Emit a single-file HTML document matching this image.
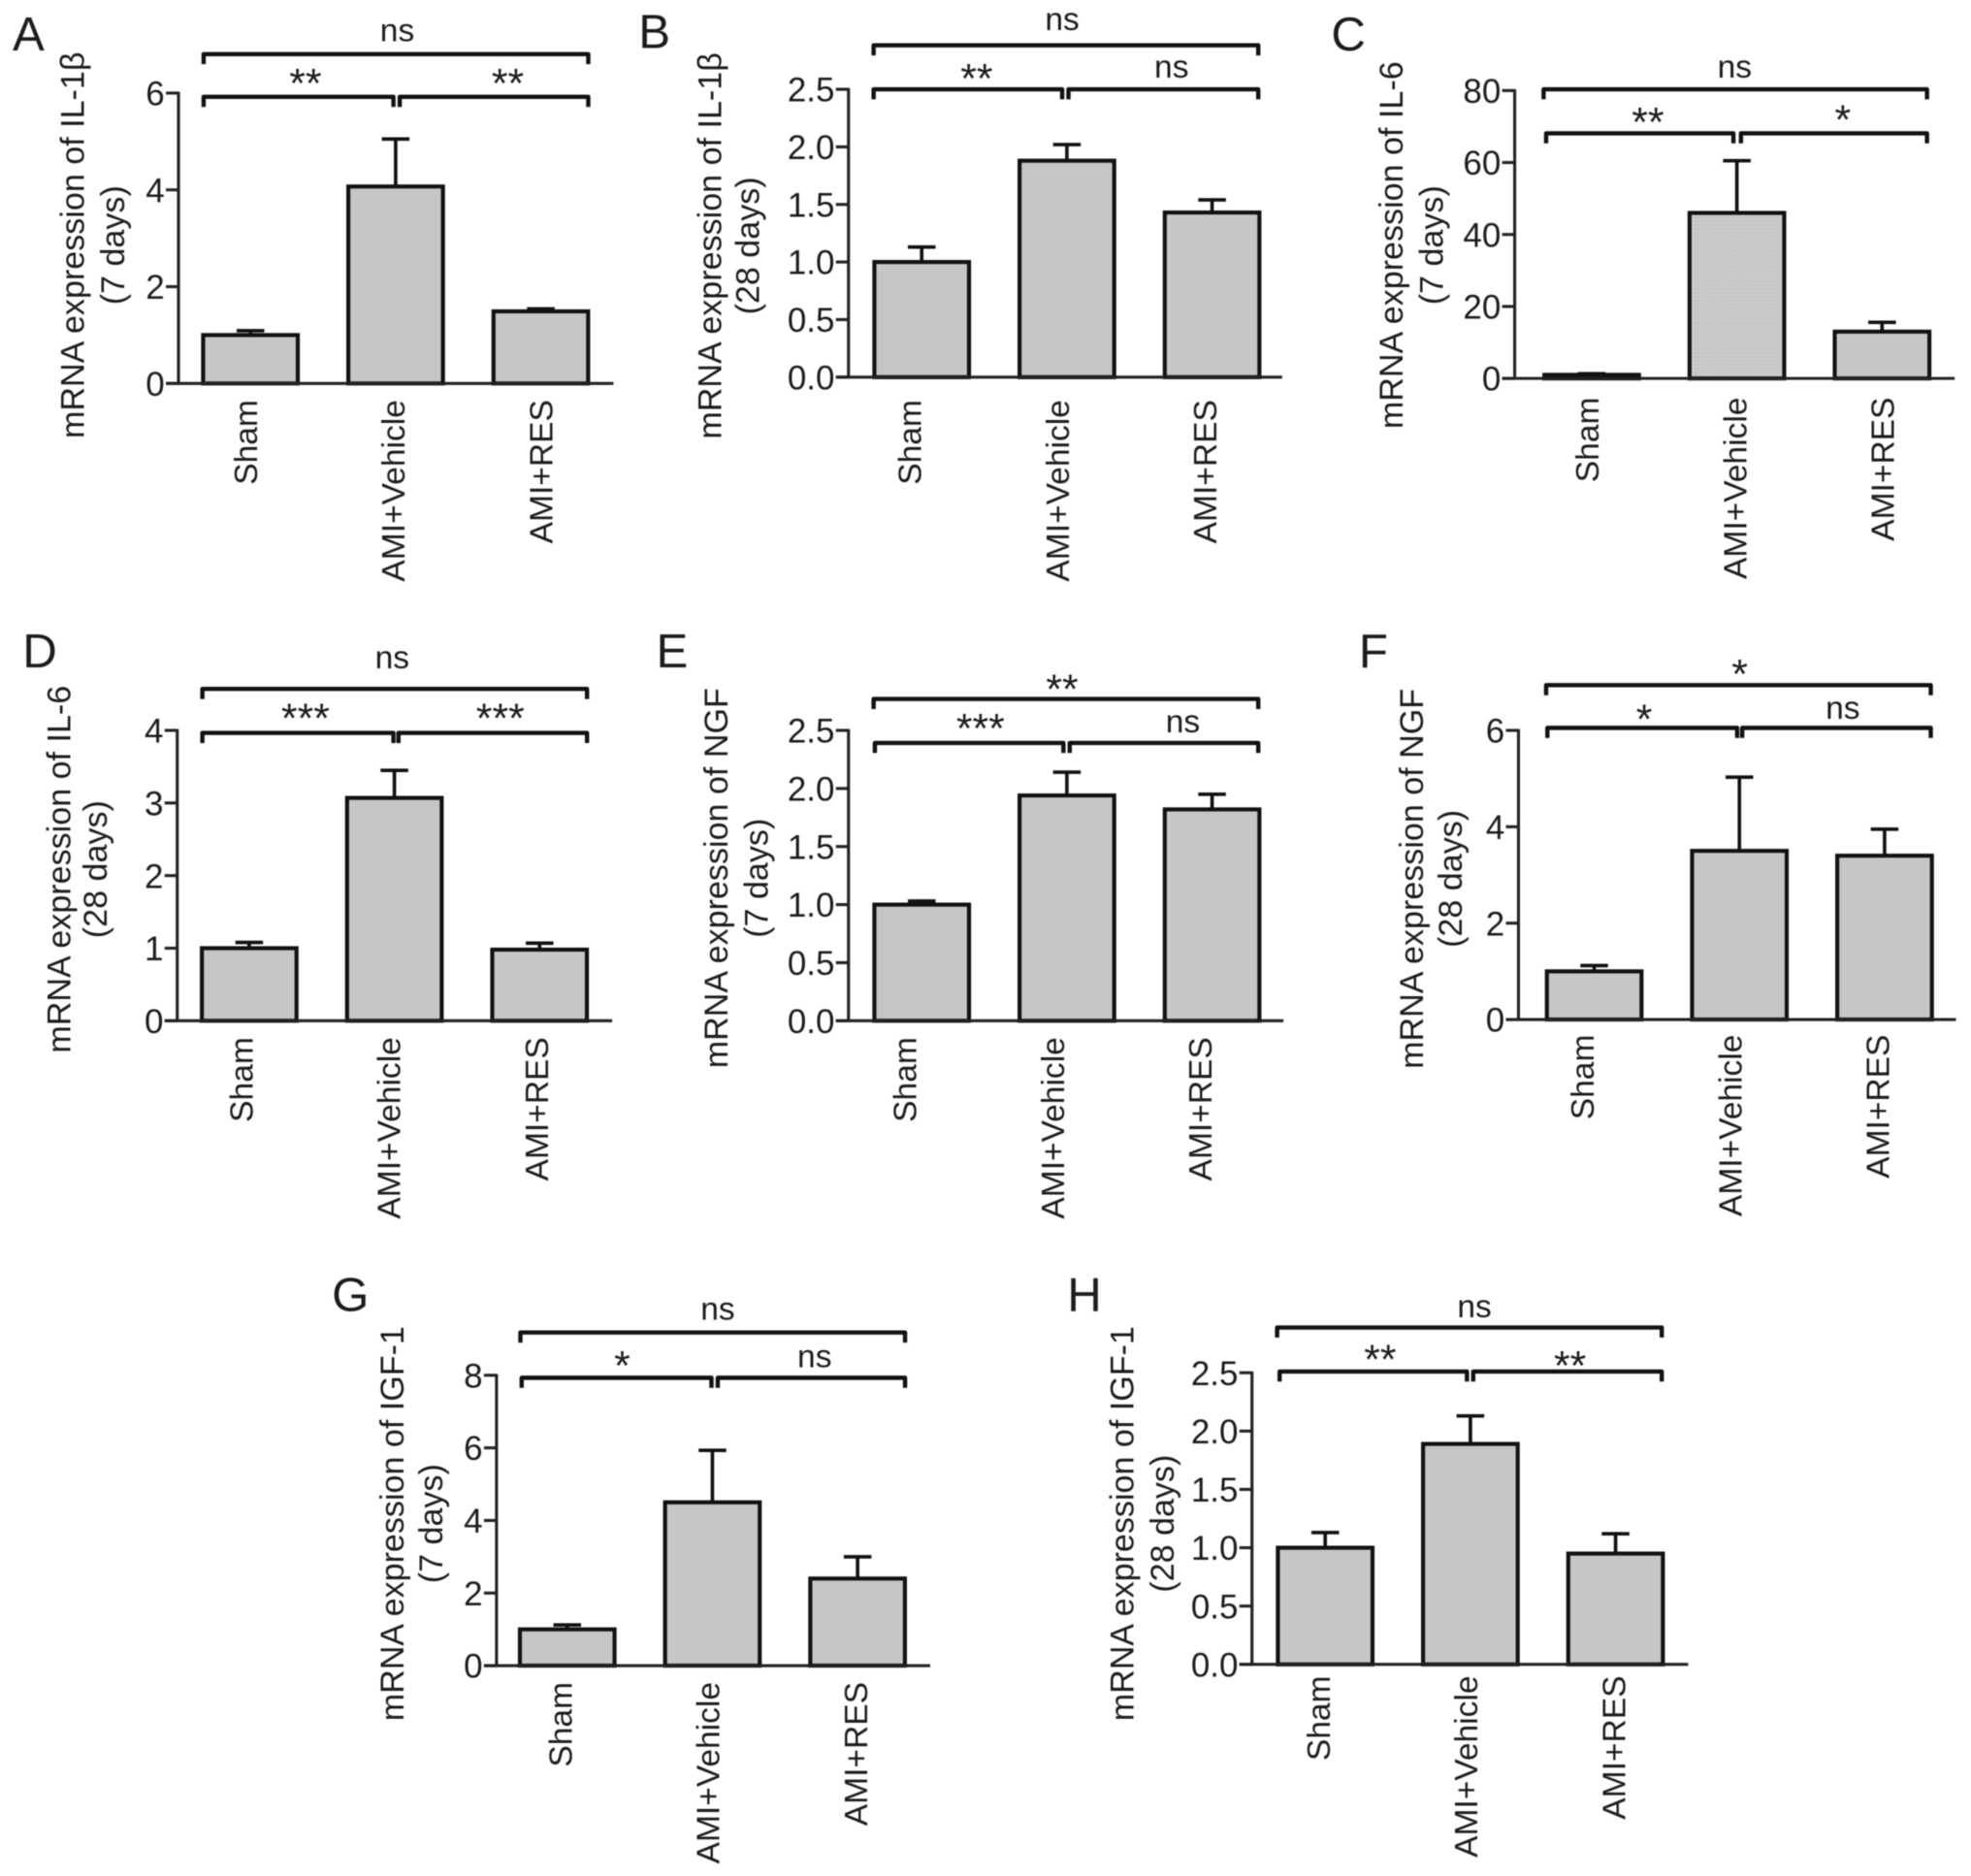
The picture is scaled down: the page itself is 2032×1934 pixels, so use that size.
<!DOCTYPE html>
<html lang="en">
<head>
<meta charset="utf-8">
<title>mRNA expression bar charts</title>
<style>
html,body{margin:0;padding:0;background:#fff;}
body{width:2032px;height:1934px;overflow:hidden;}
svg{display:block;filter:blur(0.6px);}
text{font-family:"Liberation Sans",Arial,sans-serif;fill:#1c1c1c;}
</style>
</head>
<body>
<svg id="fig" xmlns="http://www.w3.org/2000/svg" width="2032" height="1934" viewBox="0 0 1568 1492.3">
  <defs>
    <pattern id="dots" width="3" height="3" patternUnits="userSpaceOnUse">
      <rect width="3" height="3" fill="#c6c6c6"/>
      <rect width="1" height="1" fill="#d6d6d6"/>
    </pattern>
  </defs>
</svg>
<script>
const categories = ['Sham', 'AMI+Vehicle', 'AMI+RES'];

const panelAMeans = [1, 4.07, 1.49];
const panelAErrors = [0.09, 0.98, 0.05];
const panelATicks = [0, 2, 4, 6];
const panelATickLabels = ['0', '2', '4', '6'];
const panelASig = ['ns', '**', '**'];

const panelBMeans = [1, 1.88, 1.43];
const panelBErrors = [0.13, 0.14, 0.11];
const panelBTicks = [0, 0.5, 1, 1.5, 2, 2.5];
const panelBTickLabels = ['0.0', '0.5', '1.0', '1.5', '2.0', '2.5'];
const panelBSig = ['ns', '**', 'ns'];

const panelCMeans = [1, 46, 13];
const panelCErrors = [0.3, 14.5, 2.6];
const panelCTicks = [0, 20, 40, 60, 80];
const panelCTickLabels = ['0', '20', '40', '60', '80'];
const panelCSig = ['ns', '**', '*'];

const panelDMeans = [1, 3.07, 0.98];
const panelDErrors = [0.08, 0.38, 0.09];
const panelDTicks = [0, 1, 2, 3, 4];
const panelDTickLabels = ['0', '1', '2', '3', '4'];
const panelDSig = ['ns', '***', '***'];

const panelEMeans = [1, 1.94, 1.82];
const panelEErrors = [0.03, 0.2, 0.13];
const panelETicks = [0, 0.5, 1, 1.5, 2, 2.5];
const panelETickLabels = ['0.0', '0.5', '1.0', '1.5', '2.0', '2.5'];
const panelESig = ['**', '***', 'ns'];

const panelFMeans = [1, 3.5, 3.4];
const panelFErrors = [0.12, 1.53, 0.55];
const panelFTicks = [0, 2, 4, 6];
const panelFTickLabels = ['0', '2', '4', '6'];
const panelFSig = ['*', '*', 'ns'];

const panelGMeans = [1, 4.5, 2.4];
const panelGErrors = [0.12, 1.43, 0.6];
const panelGTicks = [0, 2, 4, 6, 8];
const panelGTickLabels = ['0', '2', '4', '6', '8'];
const panelGSig = ['ns', '*', 'ns'];

const panelHMeans = [1, 1.89, 0.95];
const panelHErrors = [0.13, 0.24, 0.17];
const panelHTicks = [0, 0.5, 1, 1.5, 2, 2.5];
const panelHTickLabels = ['0.0', '0.5', '1.0', '1.5', '2.0', '2.5'];
const panelHSig = ['ns', '**', '**'];

const panels = [
  {id:'a', letter:'A', lx:10, ly:40, ax:142, y0:305, yT:74, bar0:160, xEnd:488, gene:'IL-1\u03B2', dur:'(7 days)', l1x:57.5, l2x:89.5, lcy:195, catX:195, catTop:318,
   top:[43,162,468], low:[77,162,313,318,468], sx:[316,243,404], sy:[26,62,62],
   means:panelAMeans, errors:panelAErrors, ticks:panelATicks, tickLabels:panelATickLabels, sig:panelASig},
  {id:'b', letter:'B', lx:508, ly:38, ax:675, y0:300, yT:71, bar0:694, xEnd:1020, gene:'IL-1\u03B2', dur:'(28 days)', l1x:564.5, l2x:594.5, lcy:195.5, catX:723.5, catTop:318,
   top:[36,695,1001], low:[71,695,845,850,1001], sx:[845,777,932], sy:[17,58,55],
   means:panelBMeans, errors:panelBErrors, ticks:panelBTicks, tickLabels:panelBTickLabels, sig:panelBSig},
  {id:'c', letter:'C', lx:1059, ly:40, ax:1205, y0:301, yT:72, bar0:1227, xEnd:1555, gene:'IL-6', dur:'(7 days)', l1x:1106.5, l2x:1138.5, lcy:195, catX:1262.5, catTop:316,
   top:[71,1228,1533], low:[106,1230,1379,1385,1533], sx:[1380,1311,1466], sy:[55,93,91],
   means:panelCMeans, errors:panelCErrors, ticks:panelCTicks, tickLabels:panelCTickLabels, sig:panelCSig, dotted:1},
  {id:'d', letter:'D', lx:18, ly:531, ax:141, y0:812, yT:581, bar0:159, xEnd:487, gene:'IL-6', dur:'(28 days)', l1x:46.5, l2x:75.5, lcy:691.5, catX:191.5, catTop:825,
   top:[548,161,467], low:[583,161,313,317,467], sx:[312,243,398], sy:[525,567,567],
   means:panelDMeans, errors:panelDErrors, ticks:panelDTicks, tickLabels:panelDTickLabels, sig:panelDSig},
  {id:'e', letter:'E', lx:522, ly:531, ax:675, y0:812, yT:581, bar0:694, xEnd:1021, gene:'NGF', dur:'(7 days)', l1x:569.5, l2x:601.5, lcy:698.5, catX:719.5, catTop:825,
   top:[556,695,1001], low:[591,696,846,851,1001], sx:[845,780,941], sy:[544,575,576],
   means:panelEMeans, errors:panelEErrors, ticks:panelETicks, tickLabels:panelETickLabels, sig:panelESig},
  {id:'f', letter:'F', lx:1081, ly:531, ax:1208, y0:811, yT:581, bar0:1229, xEnd:1556, gene:'NGF', dur:'(28 days)', l1x:1122.5, l2x:1153.5, lcy:699, catX:1258.5, catTop:823,
   top:[545,1230,1536], low:[579,1231,1382,1386,1536], sx:[1384,1308,1466], sy:[532,568,565],
   means:panelFMeans, errors:panelFErrors, ticks:panelFTicks, tickLabels:panelFTickLabels, sig:panelFSig},
  {id:'g', letter:'G', lx:264, ly:1043, ax:395, y0:1325, yT:1094, bar0:412, xEnd:740, gene:'IGF-1', dur:'(7 days)', l1x:311.5, l2x:342.5, lcy:1212, catX:445.5, catTop:1338,
   top:[1060,414,720], low:[1096,415,566,571,720], sx:[571,495,648], sy:[1043,1082,1081],
   means:panelGMeans, errors:panelGErrors, ticks:panelGTicks, tickLabels:panelGTickLabels, sig:panelGSig},
  {id:'h', letter:'H', lx:849, ly:1043, ax:996, y0:1324, yT:1092, bar0:1015, xEnd:1343, gene:'IGF-1', dur:'(28 days)', l1x:892.5, l2x:924.5, lcy:1212, catX:1048.5, catTop:1333,
   top:[1056,1016,1322], low:[1091,1018,1167,1172,1322], sx:[1173,1098,1249], sy:[1041,1077,1082],
   means:panelHMeans, errors:panelHErrors, ticks:panelHTicks, tickLabels:panelHTickLabels, sig:panelHSig}
];

const BAR_W = 78.5;
const BAR_STEP = 115.5;
const CAT_STEP = 117.5;
const FS = 25.9;
const TITLE_FS = 26.3;
const TICK_FS = 27;
const NS = 'http://www.w3.org/2000/svg';
const svg = document.getElementById('fig');

function mk(parent, tag, attrs, text) {
  const node = document.createElementNS(NS, tag);
  for (const k in attrs) node.setAttribute(k, attrs[k]);
  if (text !== undefined) node.textContent = text;
  parent.appendChild(node);
  return node;
}

function sigText(parent, label, cx, cy, name) {
  const isStar = label.charAt(0) === '*';
  const fs = isStar ? 33 : FS;
  const y = isStar ? cy + fs * 0.47 : cy + fs * 0.26;
  const el = mk(parent, 'text', {x: cx, y: y, 'text-anchor': 'middle', 'font-size': fs}, label);
  
  
}

function bracket(parent, x0, x1, y, name) {
  const el = mk(parent, 'path', {d: 'M' + x0 + ' ' + (y + 8) + 'V' + y + 'H' + x1 + 'V' + (y + 8), fill: 'none', stroke: '#111', 'stroke-width': 3.4, 'stroke-linejoin': 'round'});
  
  
}

panels.forEach(function (p) {
  const g = mk(svg, 'g', {});
  
  

  const maxTick = p.ticks[p.ticks.length - 1];
  const yScale = function (v) { return p.y0 - (v / maxTick) * (p.y0 - p.yT); };
  const xLeft = function (i) { return p.bar0 + i * BAR_STEP; };

  const letter = mk(g, 'text', {x: p.lx, y: p.ly, 'font-size': 38}, p.letter);
  
  

  const l1 = mk(g, 'text', {transform: 'translate(' + (p.l1x + FS * 0.36) + ' ' + p.lcy + ') rotate(-90)', 'text-anchor': 'middle', 'font-size': TITLE_FS}, 'mRNA expression of ' + p.gene);
  
  

  const l2 = mk(g, 'text', {transform: 'translate(' + (p.l2x + FS * 0.36) + ' ' + p.lcy + ') rotate(-90)', 'text-anchor': 'middle', 'font-size': TITLE_FS}, p.dur);
  
  

  p.means.forEach(function (m, i) {
    const cx = xLeft(i) + BAR_W / 2;
    const topY = yScale(m + p.errors[i]);
    const stem = mk(g, 'line', {x1: cx, x2: cx, y1: yScale(m), y2: topY, stroke: '#111', 'stroke-width': 2.8});
    
    
    const cap = mk(g, 'line', {x1: cx - 11, x2: cx + 11, y1: topY, y2: topY, stroke: '#111', 'stroke-width': 2.8});
    
    
    const fill = (p.dotted && i === 1) ? 'url(#dots)' : '#c6c6c6';
    const bar = mk(g, 'rect', {x: xLeft(i) + 1.6, y: yScale(m), width: BAR_W - 3.2, height: p.y0 - yScale(m), fill: fill, stroke: '#111', 'stroke-width': 3.2});
    
    
  });

  const yAxis = mk(g, 'line', {x1: p.ax, x2: p.ax, y1: yScale(maxTick) - 1, y2: p.y0 + 1, stroke: '#222', 'stroke-width': 2.4});
  
  
  const xAxis = mk(g, 'line', {x1: p.ax - 10, x2: p.xEnd, y1: p.y0, y2: p.y0, stroke: '#222', 'stroke-width': 2.4});
  
  

  p.ticks.forEach(function (t, i) {
    const mark = mk(g, 'line', {x1: p.ax - 10, x2: p.ax, y1: yScale(t), y2: yScale(t), stroke: '#222', 'stroke-width': 2.4});
    
    
    const lab = mk(g, 'text', {x: p.ax - 11, y: yScale(t) + TICK_FS * 0.36, 'text-anchor': 'end', 'font-size': TICK_FS}, p.tickLabels[i]);
    
    
  });

  categories.forEach(function (c, i) {
    const x = p.catX + i * CAT_STEP + FS * 0.36;
    const cat = mk(g, 'text', {transform: 'translate(' + x + ' ' + p.catTop + ') rotate(-90)', 'text-anchor': 'end', 'font-size': FS}, c);
    
    
  });

  bracket(g, p.top[1], p.top[2], p.top[0], 'bracket-overall');
  bracket(g, p.low[1], p.low[2], p.low[0], 'bracket-left');
  bracket(g, p.low[3], p.low[4], p.low[0], 'bracket-right');
  sigText(g, p.sig[0], p.sx[0], p.sy[0], 'significance-overall');
  sigText(g, p.sig[1], p.sx[1], p.sy[1], 'significance-left');
  sigText(g, p.sig[2], p.sx[2], p.sy[2], 'significance-right');
});
</script>
</body>
</html>
